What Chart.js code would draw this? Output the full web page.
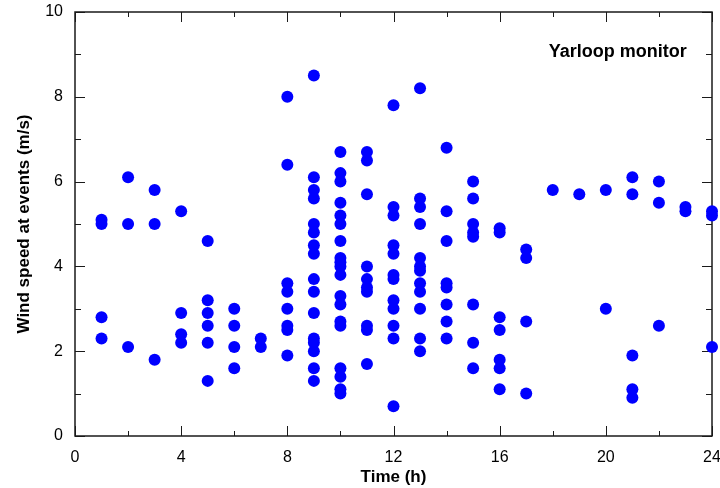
<!DOCTYPE html>
<html>
<head>
<meta charset="utf-8">
<script src="https://cdn.jsdelivr.net/npm/chart.js@4/dist/chart.umd.min.js"></script>
<style>
    html, body { margin: 0; padding: 0; background: #fff; }
    #wrap { width: 720px; height: 488px; position: relative; }
</style>
</head>
<body>
<div id="wrap"><canvas id="windChart"></canvas></div>
<script>
// Hour of day for each column of events
const hours = [1, 2, 3, 4, 5, 6, 7, 8, 9, 10, 11, 12, 13, 14, 15, 16, 17, 18, 19, 20, 21, 22, 23, 24];

// Wind speed (m/s) at events, one list per hour
const speeds = [
    [5.1, 5.0, 2.8, 2.3],
    [6.1, 5.0, 2.1],
    [5.8, 5.0, 1.8],
    [5.3, 2.9, 2.4, 2.2],
    [4.6, 3.2, 2.9, 2.6, 2.2, 1.3],
    [3.0, 2.6, 2.1, 1.6],
    [2.3, 2.1],
    [8.0, 6.4, 3.6, 3.4, 3.0, 2.6, 2.5, 1.9],
    [8.5, 6.1, 5.8, 5.6, 5.0, 4.8, 4.5, 4.3, 3.7, 3.4, 2.9, 2.3, 2.2, 2.0, 1.6, 1.3],
    [6.7, 6.2, 6.0, 5.5, 5.2, 5.0, 4.6, 4.2, 4.1, 4.0, 3.8, 3.3, 3.1, 2.7, 2.6, 1.6, 1.4, 1.1, 1.0],
    [6.7, 6.5, 5.7, 4.0, 3.7, 3.5, 3.4, 2.6, 2.5, 1.7],
    [7.8, 5.4, 5.2, 4.5, 4.3, 3.8, 3.7, 3.2, 3.0, 2.6, 2.3, 0.7],
    [8.2, 5.6, 5.4, 5.0, 4.2, 4.0, 3.9, 3.6, 3.4, 3.0, 2.3, 2.0],
    [6.8, 5.3, 4.6, 3.6, 3.5, 3.1, 2.7, 2.3],
    [6.0, 5.6, 5.0, 4.8, 4.7, 3.1, 2.2, 1.6],
    [4.9, 4.8, 2.8, 2.5, 1.8, 1.6, 1.1],
    [4.4, 4.2, 2.7, 1.0],
    [5.8],
    [5.7],
    [5.8, 3.0],
    [6.1, 5.7, 1.9, 1.1, 0.9],
    [6.0, 5.5, 2.6],
    [5.4, 5.3],
    [5.3, 5.2, 2.1]
];

// Axis ticks
const xLabelTicks = [0, 4, 8, 12, 16, 20, 24];
const xMinorTicks = [2, 6, 10, 14, 18, 22];
const yLabelTicks = [0, 2, 4, 6, 8, 10];
const yMinorTicks = [1, 3, 5, 7, 9];

const monitorName = 'Yarloop monitor';
const FONT = '"Liberation Sans", Arial, sans-serif';

const points = [];
hours.forEach((h, i) => {
    speeds[i].forEach(v => points.push({ x: h, y: v }));
});

// Box frame with inward ticks on all four sides
const framePlugin = {
    id: 'frame',
    beforeDatasetsDraw(chart) {
        const { ctx, chartArea: a, scales: { x, y } } = chart;
        ctx.save();
        ctx.strokeStyle = '#1a1a1a';
        ctx.lineWidth = 1;

        const tickX = (val, len) => {
            const px = Math.round(x.getPixelForValue(val)) + 0.5;
            ctx.moveTo(px, a.bottom); ctx.lineTo(px, a.bottom - len);
            ctx.moveTo(px, a.top); ctx.lineTo(px, a.top + len);
        };
        const tickY = (val, len) => {
            const py = Math.round(y.getPixelForValue(val)) + 0.5;
            ctx.moveTo(a.left, py); ctx.lineTo(a.left + len, py);
            ctx.moveTo(a.right, py); ctx.lineTo(a.right - len, py);
        };

        ctx.beginPath();
        xLabelTicks.forEach(v => tickX(v, 10));
        xMinorTicks.forEach(v => tickX(v, 5));
        yLabelTicks.forEach(v => tickY(v, 10));
        yMinorTicks.forEach(v => tickY(v, 6));
        ctx.stroke();

        ctx.lineWidth = 1.5;
        ctx.strokeRect(a.left, a.top, a.right - a.left, a.bottom - a.top);
        ctx.restore();
    },
    afterDraw(chart) {
        const { ctx } = chart;
        const x = chart.scales.x, y = chart.scales.y;
        ctx.save();
        ctx.font = 'bold 18px ' + FONT;
        ctx.fillStyle = '#000';
        ctx.textAlign = 'right';
        ctx.textBaseline = 'alphabetic';
        ctx.fillText(monitorName, x.getPixelForValue(23.05), y.getPixelForValue(8.94));
        ctx.restore();
    }
};

new Chart(document.getElementById('windChart'), {
    type: 'scatter',
    data: {
        datasets: [{
            data: points,
            backgroundColor: '#0000ff',
            borderWidth: 0,
            pointRadius: 6,
            pointHoverRadius: 6,
            clip: false
        }]
    },
    options: {
        responsive: true,
        maintainAspectRatio: false,
        animation: false,
        events: [],
        layout: { padding: { left: 0, right: 8, top: 12, bottom: 0 } },
        plugins: {
            legend: { display: false },
            tooltip: { enabled: false }
        },
        scales: {
            x: {
                type: 'linear',
                min: 0,
                max: 24,
                afterFit: s => { s.height = 52; s.paddingLeft = 0; s.paddingRight = 0; },
                grid: { display: false, drawTicks: false },
                border: { display: false },
                ticks: {
                    stepSize: 4,
                    padding: 12,
                    color: '#000',
                    font: { family: FONT, size: 16 }
                },
                title: {
                    display: true,
                    text: 'Time (h)',
                    color: '#000',
                    padding: { top: 0, bottom: 0 },
                    font: { family: FONT, size: 17, weight: 'bold' }
                }
            },
            y: {
                type: 'linear',
                min: 0,
                max: 10,
                afterFit: s => { s.width = 75; s.paddingTop = 0; s.paddingBottom = 0; },
                grid: { display: false, drawTicks: false },
                border: { display: false },
                ticks: {
                    stepSize: 2,
                    padding: 12,
                    color: '#000',
                    font: { family: FONT, size: 16 }
                },
                title: {
                    display: true,
                    text: 'Wind speed at events (m/s)',
                    color: '#000',
                    padding: { top: 14, bottom: 0 },
                    font: { family: FONT, size: 17, weight: 'bold' }
                }
            }
        }
    },
    plugins: [framePlugin]
});
</script>
</body>
</html>
